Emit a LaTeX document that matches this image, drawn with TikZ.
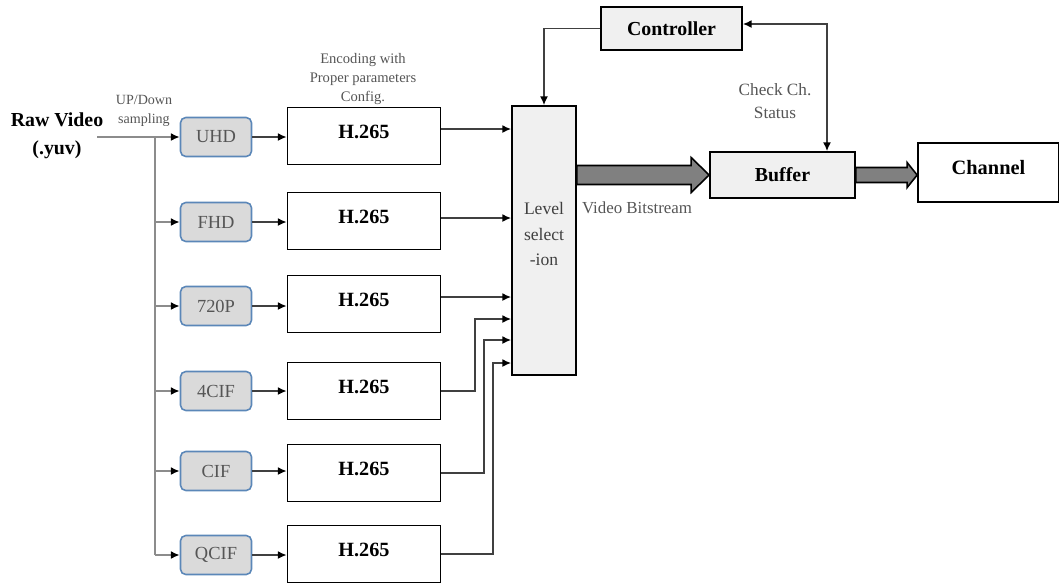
\documentclass[tikz,border=0pt]{standalone}
\usepackage{fontspec}
\setmainfont{Liberation Serif}
\usepackage{tikz}
\usepackage{xcolor}
\usetikzlibrary{arrows.meta}

\definecolor{resblue}{HTML}{5B87B8}
\definecolor{resfill}{HTML}{DADADA}
\definecolor{boxfill}{HTML}{F0F0F0}
\definecolor{notegray}{HTML}{555555}
\definecolor{fatgray}{HTML}{808080}

\begin{document}
\begin{tikzpicture}[x=0.02cm,y=-0.02cm,>={Latex[length=5pt,width=4.5pt,color=black]},
res/.style={draw=resblue,line width=0.9pt,rounded corners=3pt,fill=resfill,minimum width=1.42cm,minimum height=0.78cm,inner sep=0pt,text=notegray,font=\fontsize{10.5}{12}\selectfont},
enc/.style={draw,line width=1pt,minimum width=3.06cm,minimum height=1.14cm,inner sep=0pt,text depth=0.16cm,font=\fontsize{11.5}{13}\selectfont\bfseries},
blk/.style={draw,line width=1pt,fill=boxfill,inner sep=0pt,font=\fontsize{11.3}{13}\selectfont\bfseries},
wire/.style={draw=black!75,line width=0.8pt},
trunk/.style={draw=black!45,line width=1.2pt},
note/.style={align=center,text=notegray},
fat/.style={draw,line width=0.9pt,fill=fatgray}]
\useasboundingbox (0,0) rectangle (1059,583);

% input and down sampling
\node[align=center,font=\fontsize{11.3}{15.9}\selectfont\bfseries] (raw) at (57,136) {Raw Video\\(.yuv)};
\node[note,font=\fontsize{8}{10.8}\selectfont] (updown) at (144,111) {UP/Down\\sampling};
\coordinate (src) at (97,137);
\coordinate (split) at (155,137);

\node[res] (r1) at (216,137) {UHD};
\node[res] (r2) at (216,222) {FHD};
\node[res] (r3) at (216,306) {720P};
\node[res] (r4) at (216,391) {4CIF};
\node[res] (r5) at (216,471) {CIF};
\node[res] (r6) at (216,555) {QCIF};

\draw[trunk] (src)--(split)--(split |- r6);
\draw[trunk,->] (split |- r1)--(r1);
\draw[trunk,->] (split |- r2)--(r2);
\draw[trunk,->] (split |- r3)--(r3);
\draw[trunk,->] (split |- r4)--(r4);
\draw[trunk,->] (split |- r5)--(r5);
\draw[trunk,->] (split |- r6)--(r6);

% encoders
\node[note,font=\fontsize{8.3}{10.8}\selectfont] (encnote) at (363,79) {Encoding with\\Proper parameters\\Config.};
\node[enc] (h1) at (364,136) {H.265};
\node[enc] (h2) at (364,221) {H.265};
\node[enc] (h3) at (364,304) {H.265};
\node[enc] (h4) at (364,391) {H.265};
\node[enc] (h5) at (364,473) {H.265};
\node[enc] (h6) at (364,554) {H.265};

\draw[wire,->] (r1)--(h1.west |- r1);
\draw[wire,->] (r2)--(h2.west |- r2);
\draw[wire,->] (r3)--(h3.west |- r3);
\draw[wire,->] (r4)--(h4.west |- r4);
\draw[wire,->] (r5)--(h5.west |- r5);
\draw[wire,->] (r6)--(h6.west |- r6);

% level selection
\node[blk,font=\fontsize{10}{14.7}\selectfont,text=black!75,align=center,minimum width=1.28cm,minimum height=5.38cm,text depth=0.26cm] (lvl) at (544,240.5) {Level\\select\\-ion};

\coordinate (o1) at ([yshift=0.14cm]h1.east);
\coordinate (o2) at ([yshift=0.06cm]h2.east);
\coordinate (o3) at ([yshift=0.14cm]h3.east);
\draw[wire,->] (o1)--(o1 -| lvl.west);
\draw[wire,->] (o2)--(o2 -| lvl.west);
\draw[wire,->] (o3)--(o3 -| lvl.west);
\draw[wire,->] (h4.east)-|(475,319)--(lvl.west |- 0,319);
\draw[wire,->] (h5.east)-|(484,340)--(lvl.west |- 0,340);
\draw[wire,->] (h6.east)-|(493,363)--(lvl.west |- 0,363);

% control loop and output
\node[blk,minimum width=2.82cm,minimum height=0.86cm] (ctrl) at (671.5,28.5) {Controller};
\node[blk,minimum width=2.9cm,minimum height=0.92cm] (buf) at (782.5,175) {Buffer};
\node[blk,fill=white,minimum width=2.82cm,minimum height=1.18cm,text depth=0.22cm,font=\fontsize{11.6}{13}\selectfont\bfseries] (chan) at (988.5,172.5) {Channel};

\draw[wire,->] (ctrl.west)-|(lvl.north);
\draw[wire,<->] ([yshift=0.09cm]ctrl.east)-|(buf.north -| 827,0);
\node[note,font=\fontsize{9.8}{13}\selectfont] (chk) at (775,101) {Check Ch.\\Status};

\coordinate (a0) at (lvl.east |- buf.west);
\draw[fat] ([yshift=0.19cm]a0)--([xshift=-0.36cm,yshift=0.19cm]buf.west)--([xshift=-0.36cm,yshift=0.35cm]buf.west)--(buf.west)
--([xshift=-0.36cm,yshift=-0.35cm]buf.west)--([xshift=-0.36cm,yshift=-0.19cm]buf.west)--([yshift=-0.19cm]a0)--cycle;
\node[note,font=\fontsize{9.6}{12}\selectfont] (vbs) at (637,208) {Video Bitstream};

\coordinate (b1) at (chan.west |- buf.east);
\draw[fat] ([yshift=0.15cm]buf.east)--([xshift=-0.2cm,yshift=0.15cm]b1)--([xshift=-0.2cm,yshift=0.25cm]b1)--(b1)
--([xshift=-0.2cm,yshift=-0.25cm]b1)--([xshift=-0.2cm,yshift=-0.15cm]b1)--([yshift=-0.15cm]buf.east)--cycle;
\end{tikzpicture}
\end{document}
